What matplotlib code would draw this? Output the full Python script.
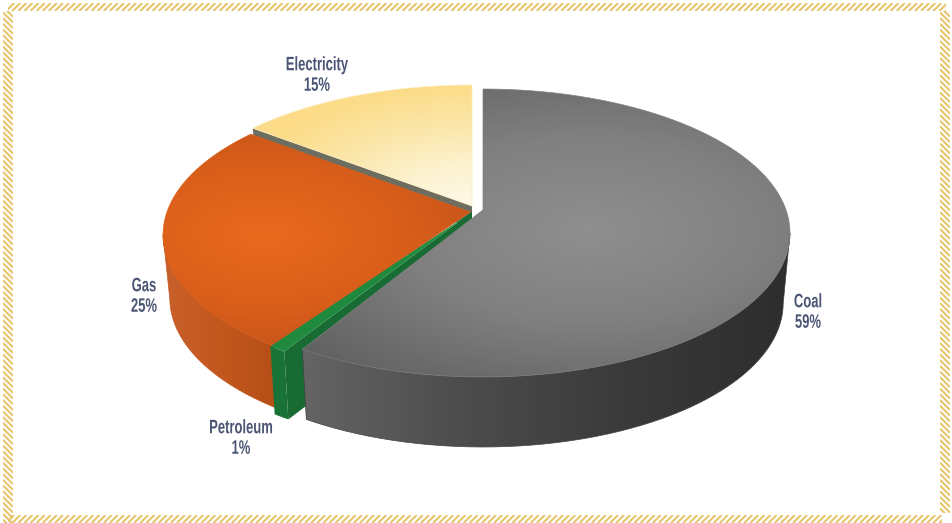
import numpy as np
import matplotlib
matplotlib.use("Agg")
import matplotlib.pyplot as plt
from matplotlib.path import Path
from matplotlib.patches import PathPatch, Rectangle
from matplotlib.colors import LinearSegmentedColormap
from matplotlib.patheffects import AbstractPathEffect
from matplotlib.transforms import Affine2D

categories = ["Coal", "Petroleum", "Gas", "Electricity"]
values = [58.6, 0.8, 26.0, 14.6]
labels = ["59%", "1%", "25%", "15%"]

W, H = 953, 523
GOLD = "#e6c56c"
TEXT = "#4b5675"
K = -0.16
RX, RY, SHRINK = 303, 144, 0.978

# slice centres (pixel offsets of the exploded slices) and wall heights
centres = {"Coal": (483, 233), "Petroleum": (465, 235), "Gas": (470, 235), "Electricity": (472, 229)}
depths = {"Coal": 70, "Petroleum": 68, "Gas": 63, "Electricity": 22}

fig = plt.figure(figsize=(W / 100, H / 100), dpi=100)
ax = fig.add_axes([0, 0, 1, 1])
ax.set_xlim(0, W)
ax.set_ylim(H, 0)
ax.axis("off")

yy, xx = np.mgrid[0:H, 0:W] + 0.5


def project(theta, c, depth=0):
    u, v = np.sin(theta), -np.cos(theta)
    d = 1 + K * v
    s = SHRINK if depth else 1.0
    x = c[0] + s * RX * u / d
    y = c[1] + depth + RY * (v + K) / d
    return np.column_stack([x, y])


def fill(poly, field, stops, z):
    cmap = LinearSegmentedColormap.from_list("c", stops)
    im = ax.imshow(np.clip(field, 0, 1), cmap=cmap, vmin=0, vmax=1, extent=(0, W, H, 0),
                   aspect="auto", interpolation="bilinear", zorder=z)
    patch = PathPatch(Path(poly), transform=ax.transData, fc="none", ec="none")
    ax.add_patch(patch)
    im.set_clip_path(patch)
    ax.plot(*np.vstack([poly, poly[:1]]).T, color=cmap(0.5), lw=0.5, zorder=z)


def radial(cx, cy, rx, ry):
    return np.hypot((xx - cx) / rx, (yy - cy) / ry)


def linear(x0, x1):
    return (xx - x0) / (x1 - x0)


cum = np.cumsum([0] + values) / sum(values) * 2 * np.pi
ranges = {n: (cum[i], cum[i + 1]) for i, n in enumerate(categories)}


def slice_geom(name):
    a, b = ranges[name]
    c = centres[name]
    t = np.linspace(a, b, 400)
    top = project(t, c)
    bot = project(t, c, depths[name])
    apex = np.array([[c[0], c[1] + RY * K]])
    return top, bot, apex


# Electricity: grey cut wall, then top
top, bot, apex = slice_geom("Electricity")
d = depths["Electricity"]
wall = np.vstack([top[:1], top[:1] + [2, d], apex + [0, d], apex])
ax.add_patch(plt.Polygon(wall, fc="#6d6d60", ec="none", zorder=1))
fill(np.vstack([apex, top]), 1 - np.hypot((xx - 470) / 230, (yy - 210) / 125),
     ["#fcdc88", "#fbe7ab", "#fdf3d2", "#fef9ea"], 2)

# Gas
top, bot, apex = slice_geom("Gas")
i_t, i_b = np.argmin(top[:, 0]), np.argmin(bot[:, 0])
side = np.vstack([top[:i_t + 1], bot[:i_b + 1][::-1]])
fill(side, linear(165, 290), ["#c9602a", "#c2571d", "#b04c16"], 3)
fill(np.vstack([apex, top]), radial(265, 235, 240, 125), ["#e9691e", "#dc601b", "#c5531a"], 4)

# Petroleum
top, bot, apex = slice_geom("Petroleum")
d = depths["Petroleum"]
apex = apex + [7, 0]
p_wall = np.vstack([top[:1], bot[:1], apex + [0, d], apex])
ax.add_patch(plt.Polygon(p_wall, fc="#176b33", ec="none", zorder=5))
ax.add_patch(plt.Polygon(np.vstack([top, bot[::-1]]), fc="#197337", ec="none", zorder=5))
ax.add_patch(plt.Polygon(np.vstack([apex, top]), fc="#1f8a3e", ec="none", zorder=6))

# Coal
top, bot, apex = slice_geom("Coal")
i_t, i_b = np.argmax(top[:, 0]), np.argmax(bot[:, 0])
side = np.vstack([top[i_t:], bot[i_b:][::-1]])
fill(side, linear(310, 780), ["#636363", "#4c4c4c", "#3a3a3a", "#2e2e2e"], 7)
fill(np.vstack([apex, top]), radial(590, 230, 370, 185), ["#8f8f8f", "#808080", "#626262"], 8)


class Squeeze(AbstractPathEffect):
    """Narrow the glyphs horizontally about the label's centre."""

    def __init__(self, cx, f):
        super().__init__()
        self.cx, self.f = cx, f

    def draw_path(self, renderer, gc, tpath, affine, rgbFace=None):
        a = affine + Affine2D().translate(-self.cx, 0).scale(self.f, 1).translate(self.cx, 0)
        renderer.draw_path(gc, tpath, a, rgbFace)


# Labels
label_pos = {"Coal": (808, 313), "Petroleum": (241, 439), "Gas": (144, 297), "Electricity": (317, 76)}
for n, l in zip(categories, labels):
    x, y = label_pos[n]
    ax.text(x, y, f"{n}\n{l}", ha="center", va="center", color=TEXT, fontsize=14,
            fontweight="bold", family="Liberation Sans", linespacing=1.27, zorder=10,
            path_effects=[Squeeze(x, 0.67)])


# Hatched frame drawn as short diagonal strokes clipped to four bands
def hband(x, y, w, h, period):
    rect = Rectangle((x, y), w, h, transform=ax.transData, fc="none", ec="none")
    ax.add_patch(rect)
    for s in np.arange(-h, w, period):
        ln, = ax.plot([x + s, x + s + h], [y + h, y], color=GOLD, lw=1.5,
                      solid_capstyle="butt", zorder=11)
        ln.set_clip_path(rect)


def vband(x, y, w, h, period):
    rect = Rectangle((x, y), w, h, transform=ax.transData, fc="none", ec="none")
    ax.add_patch(rect)
    for s in np.arange(-w, h, period):
        ln, = ax.plot([x, x + w], [y + s, y + s + w], color=GOLD, lw=1.5,
                      solid_capstyle="butt", zorder=11)
        ln.set_clip_path(rect)


hband(8, 3, 938, 8, 6.1)
hband(8, 515, 934, 8, 6.1)
vband(3, 11, 10, 512, 5.7)
vband(940, 11, 10, 502, 5.7)

ax.set_xlim(0, W)
ax.set_ylim(H, 0)
fig.savefig("out.png", dpi=100, facecolor="white")
